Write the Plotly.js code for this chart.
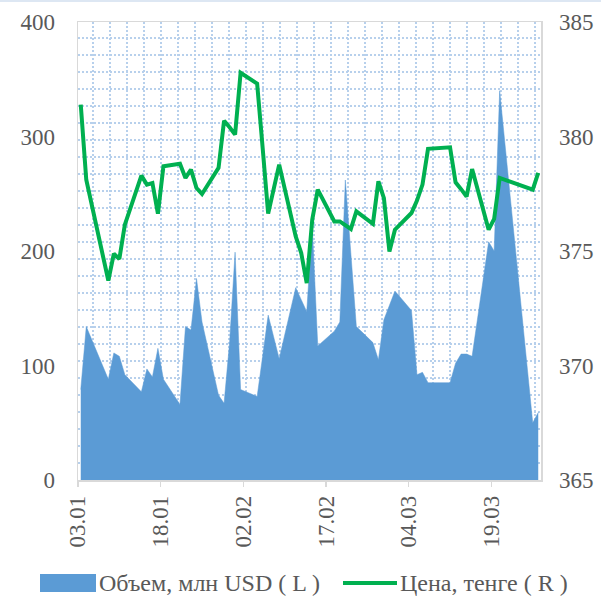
<!DOCTYPE html>
<html>
<head>
<meta charset="utf-8">
<script src="https://cdn.plot.ly/plotly-3.0.1.min.js"></script>
<style>
  html, body { margin: 0; padding: 0; background: #ffffff; }
  #wrap { position: relative; width: 601px; height: 600px; }
  #chart { width: 601px; height: 600px; }
  #topline { position: absolute; left: 0; top: 0; width: 601px; height: 2px; background: #dde7f3; z-index: 5; }
</style>
</head>
<body>
<div id="wrap">
  <div id="topline"></div>
  <div id="chart"></div>
</div>
<script>
// Trading days (2019), KASE USD/KZT
const dates = [
  '2019-01-03','2019-01-04','2019-01-08','2019-01-09','2019-01-10','2019-01-11',
  '2019-01-14','2019-01-15','2019-01-16','2019-01-17','2019-01-18',
  '2019-01-21','2019-01-22','2019-01-23','2019-01-24','2019-01-25',
  '2019-01-28','2019-01-29','2019-01-30','2019-01-31','2019-02-01',
  '2019-02-04','2019-02-05','2019-02-06','2019-02-07','2019-02-08',
  '2019-02-11','2019-02-12','2019-02-13','2019-02-14','2019-02-15',
  '2019-02-18','2019-02-19','2019-02-20','2019-02-21','2019-02-22',
  '2019-02-25','2019-02-26','2019-02-27','2019-02-28','2019-03-01',
  '2019-03-04','2019-03-05','2019-03-06','2019-03-07',
  '2019-03-11','2019-03-12','2019-03-13','2019-03-14','2019-03-15',
  '2019-03-18','2019-03-19','2019-03-20',
  '2019-03-26','2019-03-27'
];

// Volume, mln USD (left axis)
const volume = [
  79,134,88,111,108,92,
  77,97,90,115,88,
  66,134,131,176,138,
  74,67,120,199,79,
  73,108,144,125,106,
  168,157,147,222,117,
  130,138,262,200,134,
  120,105,140,152,165,
  148,92,94,85,
  85,102,110,110,108,
  208,200,340,
  50,59
];

// Price, tenge (right axis)
const price = [
  381.39,378.11,373.71,374.88,374.65,376.15,
  378.29,377.90,377.97,376.63,378.70,
  378.81,378.19,378.55,377.75,377.49,
  378.63,380.69,380.40,380.08,382.78,
  382.31,379.50,376.63,377.70,378.77,
  375.64,374.91,373.60,376.37,377.68,
  376.29,376.29,376.10,375.96,376.73,
  376.19,378.04,377.31,374.98,375.93,
  376.66,377.20,377.90,379.46,
  379.53,378.00,377.70,377.38,378.58,
  375.93,376.40,378.19,
  377.68,378.41
];

const seriesNames = ['Объем, млн USD ( L )', 'Цена, тенге ( R )'];
const leftTicks = [0, 100, 200, 300, 400];
const rightTicks = [365, 370, 375, 380, 385];

const blue = '#5b9bd5';
const green = '#00b050';
const textColor = '#595959';
const fontFamily = "'Liberation Serif', 'Times New Roman', serif";
const gridColor = '#b7d0ec';
const DAY = 86400000;

// each day's value is plotted in the middle of its day slot (date axis, "between" positioning)
const xMid = dates.map(d => d + ' 12:00');

const traces = [
  {
    type: 'scatter', mode: 'lines', name: seriesNames[0],
    x: xMid, y: volume, yaxis: 'y',
    fill: 'tozeroy', fillcolor: blue,
    line: { color: blue, width: 0.5 },
    showlegend: false, hoverinfo: 'x+y'
  },
  {
    type: 'scatter', mode: 'lines', name: seriesNames[1],
    x: xMid, y: price, yaxis: 'y2',
    line: { color: green, width: 4, shape: 'linear' },
    showlegend: false, hoverinfo: 'x+y'
  }
];

const plotW = 601 - 78 - 60;
const plotH = 600 - 22 - 120;
const pxPerDay = plotW / 84;
const gridPx = 17;
const tickSize = 23;
const legendSize = 24;

const layout = {
  width: 601, height: 600,
  margin: { l: 78, r: 60, t: 22, b: 120, pad: 0 },
  paper_bgcolor: '#ffffff',
  plot_bgcolor: '#ffffff',
  font: { family: fontFamily, size: tickSize, color: textColor },
  showlegend: false,
  xaxis: {
    type: 'date',
    range: ['2019-01-03', '2019-03-28'],
    tick0: '2019-01-03',
    dtick: 15 * DAY,
    tickformat: '%d.%m',
    tickangle: -90,
    ticks: 'outside', ticklen: 5, tickwidth: 1.5, tickcolor: '#d9d9d9',
    showline: true, linecolor: '#d9d9d9', linewidth: 1.5, mirror: true,
    showgrid: false, zeroline: false,
    tickfont: { family: fontFamily, size: tickSize, color: textColor },
    minor: {
      dtick: gridPx / pxPerDay * DAY,
      tick0: new Date(Date.UTC(2019, 0, 3) + (15 / pxPerDay) * DAY).toISOString().replace('T', ' ').replace('Z', ''),
      showgrid: true, gridcolor: gridColor, griddash: '2px,2px', gridwidth: 1.3, ticks: ''
    },
    fixedrange: true
  },
  yaxis: {
    range: [0, 400],
    tickvals: leftTicks,
    ticks: '',
    ticklabelstandoff: 17,
    showline: true, linecolor: '#d9d9d9', linewidth: 1.5, mirror: true,
    showgrid: false, zeroline: false,
    tickfont: { family: fontFamily, size: tickSize, color: textColor },
    minor: {
      dtick: 400 * gridPx / plotH, tick0: 0,
      showgrid: true, gridcolor: gridColor, griddash: '2px,2px', gridwidth: 1.3, ticks: ''
    },
    fixedrange: true
  },
  yaxis2: {
    overlaying: 'y', side: 'right',
    range: [365, 385],
    tickvals: rightTicks,
    ticks: '',
    ticklabelstandoff: 17,
    showline: false, showgrid: false, zeroline: false,
    tickfont: { family: fontFamily, size: tickSize, color: textColor },
    fixedrange: true
  },
  shapes: [
    { type: 'rect', xref: 'paper', yref: 'paper',
      x0: (40 - 78) / plotW, x1: (96 - 78) / plotW,
      y0: (480 - 592) / plotH, y1: (480 - 574) / plotH,
      fillcolor: blue, line: { width: 0 } },
    { type: 'line', xref: 'paper', yref: 'paper',
      x0: (343 - 78) / plotW, x1: (397 - 78) / plotW,
      y0: (480 - 583) / plotH, y1: (480 - 583) / plotH,
      line: { color: green, width: 4 } }
  ],
  annotations: [
    { xref: 'paper', yref: 'paper', x: (97 - 78) / plotW, y: (480 - 583) / plotH,
      xanchor: 'left', yanchor: 'middle', showarrow: false, text: seriesNames[0],
      font: { family: fontFamily, size: legendSize, color: textColor } },
    { xref: 'paper', yref: 'paper', x: (398 - 78) / plotW, y: (480 - 583) / plotH,
      xanchor: 'left', yanchor: 'middle', showarrow: false, text: seriesNames[1],
      font: { family: fontFamily, size: legendSize, color: textColor } }
  ]
};

Plotly.newPlot('chart', traces, layout, { displayModeBar: false, staticPlot: true });
</script>
</body>
</html>
